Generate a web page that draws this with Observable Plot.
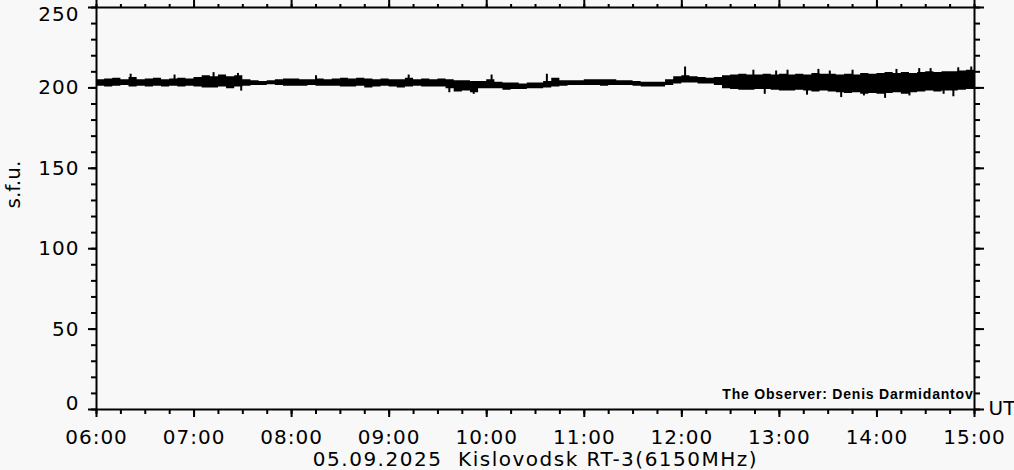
<!DOCTYPE html>
<html>
<head>
<meta charset="utf-8">
<script src="https://cdn.jsdelivr.net/npm/d3@7"></script>
<script src="https://cdn.jsdelivr.net/npm/@observablehq/plot@0.6"></script>
<style>
  html, body { margin: 0; padding: 0; background: #f8f8f8; }
  #chart { width: 1014px; height: 470px; overflow: hidden; }
</style>
</head>
<body>
<div id="chart"></div>
<script>
// ---- data ----
const startUTC = "2025-09-05T06:00:00Z";
const endUTC = "2025-09-05T15:00:00Z";
const binMinutes = 5; // each bin: upper and lower edge of the dense flux band over 5 minutes
const fluxHigh = [
  205, 205.5, 206, 205, 206.5, 205, 205.5, 206, 205, 205.5, 206, 205.5,
  206.5, 207.5, 207, 208, 207, 207.5, 205, 204.5, 204, 204.5, 205, 205.5,
  205.5, 205, 205, 205.5, 205, 205.5, 206, 205.5, 206, 205.5, 205, 205.5,
  205, 205, 206, 205, 205.5, 205, 205.5, 205, 204.5, 204.5, 204, 204,
  205, 203.5, 203, 203, 202.5, 203, 203, 204, 206, 204.5, 204.5, 204.5,
  205, 205, 205, 205, 204.5, 204.5, 204, 203.5, 203.5, 203.5, 205, 207,
  207.5, 207, 206.5, 206, 206.5, 207.5, 208, 208.5, 208, 208, 208.5, 208,
  208.5, 208, 208.5, 208, 209, 208.5, 208.5, 208, 208.5, 208, 209, 208.5,
  209, 209.5, 209, 209.5, 209, 209.5, 210, 209.5, 210, 210, 210.5, 211
];
const fluxLow = [
  201, 200.5, 201, 201.5, 200.5, 201, 200.5, 201, 200.5, 201, 200.5, 201,
  200.5, 200, 200, 200.5, 199.5, 200.5, 201, 201.5, 201.5, 202, 201.5, 201,
  201, 201, 201.5, 201, 201, 201, 200.5, 200.5, 201, 200, 200.5, 201,
  200.5, 200, 200.5, 201, 200.5, 200.5, 200.5, 199.5, 197.5, 198, 197, 199.5,
  199.5, 199.5, 198.5, 199, 199, 199.5, 199.5, 200, 200.5, 201, 201.5, 201.5,
  201.5, 201.5, 201, 201.5, 201.5, 201.5, 201, 200.5, 200.5, 200.5, 201.5, 202.5,
  203, 203, 202.5, 202.5, 201.5, 199.5, 199, 198.5, 198.5, 199, 199, 198.5,
  198, 198, 198.5, 198, 197.5, 198, 197.5, 197, 196.5, 197, 196, 196.5,
  196, 196.5, 197, 196, 197, 197.5, 198, 197.5, 198, 198, 198.5, 199
];
// isolated spikes sticking out of the band
const spikeTimes = ["06:21","06:48","07:12","07:27","07:29","08:15","09:12","09:37","09:52","10:03","10:37","12:02",
  "12:44","12:51","13:05","13:17","13:24","13:38","13:52","14:05","14:12","14:20","14:33","14:41","14:50","14:58",
  "12:58","13:31","13:45","14:26","14:47"];
const spikePeaks = [208.5, 208, 209.5, 209, 198, 207.5, 208, 197, 196, 208, 208.5, 213,
  211, 196, 211, 195.5, 211.5, 194, 195, 193.5, 211.5, 195, 212, 196, 212.5, 213,
  210.5, 210.5, 211, 212, 194.5];
const spikeBase = 203.5;
const xMajorTicks = ["06:00","07:00","08:00","09:00","10:00","11:00","12:00","13:00","14:00","15:00"];
const yMajorTicks = [0, 50, 100, 150, 200, 250];
const yMinorStep = 10;
const xMinorMinutes = 15;
const yLabel = "s.f.u.";
const xUnit = "UT";
const title = "05.09.2025  Kislovodsk RT-3(6150MHz)";
const credit = "The Observer: Denis Darmidantov";

// ---- build tables ----
const t0 = new Date(startUTC);
const t1 = new Date(endUTC);
const minute = 60000;
const series = fluxHigh.map((h, i) => ({
  time: new Date(+t0 + i * binMinutes * minute),
  high: h,
  low: fluxLow[i]
}));
series.push({time: t1, high: fluxHigh[fluxHigh.length - 1], low: fluxLow[fluxLow.length - 1]});
const atTime = s => new Date(`2025-09-05T${s}:00Z`);
const spikes = spikeTimes.map((s, i) => ({time: atTime(s), peak: spikePeaks[i]}));
const hourTicks = xMajorTicks.map(atTime);
const quarterTicks = d3.utcMinute.every(xMinorMinutes).range(t0, new Date(+t1 + 1));
const yMinorTicks = d3.range(0, 250 + 1, yMinorStep);
const fmt = d3.utcFormat("%H:%M");
const font = "DejaVu Sans";

const chart = Plot.plot({
  width: 1014,
  height: 470,
  marginTop: 7,
  marginBottom: 61,
  marginLeft: 96,
  marginRight: 40,
  style: {background: "#f8f8f8", fontFamily: font, fontSize: "20px", color: "black", overflow: "visible"},
  x: {type: "utc", domain: [t0, t1]},
  y: {domain: [0, 250]},
  marks: [
    Plot.areaY(series, {x: "time", y1: "low", y2: "high", fill: "black", curve: "step-after"}),
    Plot.ruleX(spikes, {x: "time", y1: spikeBase, y2: "peak", stroke: "black", strokeWidth: 2}),
    // bottom axis
    Plot.axisX({anchor: "bottom", ticks: quarterTicks, tickSize: 5, tickFormat: () => "", label: null, strokeWidth: 2}),
    Plot.axisX({anchor: "bottom", ticks: hourTicks, tickSize: 8, tickPadding: 12, tickFormat: fmt, label: null, strokeWidth: 2, fontSize: 20, fill: "black"}),
    // top axis
    Plot.axisX({anchor: "top", ticks: quarterTicks, tickSize: 4, tickFormat: () => "", label: null, strokeWidth: 2}),
    Plot.axisX({anchor: "top", ticks: hourTicks, tickSize: 8, tickFormat: () => "", label: null, strokeWidth: 2}),
    // left axis
    Plot.axisY({anchor: "left", ticks: yMinorTicks, tickSize: 5, tickFormat: () => "", label: null, strokeWidth: 2}),
    Plot.axisY({anchor: "left", ticks: yMajorTicks, tickSize: 8, tickFormat: () => "", label: null, strokeWidth: 2}),
    // right axis
    Plot.axisY({anchor: "right", ticks: yMinorTicks, tickSize: 5, tickFormat: () => "", label: null, strokeWidth: 2}),
    Plot.axisY({anchor: "right", ticks: yMajorTicks, tickSize: 9, tickFormat: () => "", label: null, strokeWidth: 2}),
    // y labels (edge labels kept inside the frame)
    Plot.text(yMajorTicks.filter(d => d > 0 && d < 250), {y: d => d, text: d => String(d), frameAnchor: "left", dx: -17, textAnchor: "end", fontSize: 20, fill: "black"}),
    Plot.text(yMajorTicks.filter(d => d === 250), {y: d => d, text: d => String(d), frameAnchor: "left", dx: -17, dy: 7, textAnchor: "end", fontSize: 20, fill: "black"}),
    Plot.text(yMajorTicks.filter(d => d === 0), {y: d => d, text: d => String(d), frameAnchor: "left", dx: -17, dy: -6, textAnchor: "end", fontSize: 20, fill: "black"}),
    Plot.frame({stroke: "black", strokeWidth: 2}),
    Plot.text([yLabel], {text: d => d, frameAnchor: "left", dx: -83, rotate: -90, fontSize: 20, fill: "black"}),
    Plot.text([xUnit], {text: d => d, frameAnchor: "bottom-right", dx: 14, dy: 5, textAnchor: "start", fontSize: 20, fill: "black"}),
    Plot.text([title], {text: d => d, frameAnchor: "bottom", dy: 56, fontSize: 20, fill: "black"}),
    Plot.text([credit], {text: d => d, frameAnchor: "bottom-right", dx: -1, dy: -11, textAnchor: "end", fontSize: 14, fontWeight: "bold", fontFamily: "Liberation Sans", fill: "black"})
  ]
});
// letter spacing to match the wide glyphs of the reference font
d3.select(chart).selectAll("text").filter(function() { return this.textContent === title; }).attr("letter-spacing", "1.5px");
d3.select(chart).selectAll("text").filter(function() { return this.textContent === credit; }).attr("letter-spacing", "0.8px");
d3.select(chart).selectAll("text").filter(function() { return /^\d\d:\d\d$/.test(this.textContent) || /^\d+$/.test(this.textContent); }).attr("letter-spacing", "1px");
document.getElementById("chart").appendChild(chart);
</script>
</body>
</html>
